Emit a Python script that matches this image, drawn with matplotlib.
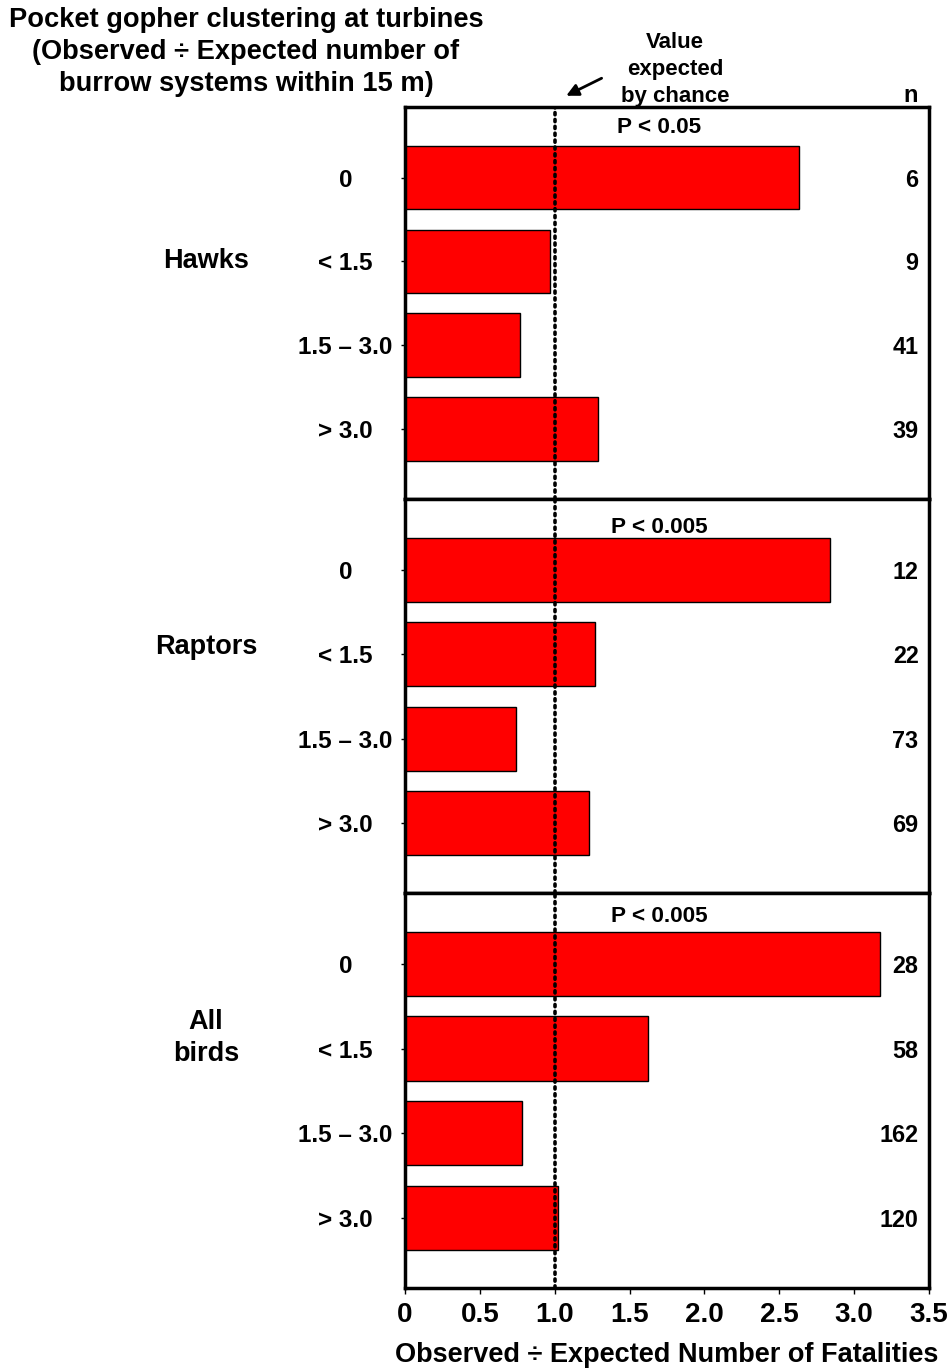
import matplotlib
matplotlib.use("Agg")
import matplotlib.pyplot as plt

plt.rcParams['font.family'] = ['Liberation Sans', 'DejaVu Sans']
plt.rcParams['font.weight'] = 'bold'

categories = ["0", "< 1.5", "1.5 – 3.0", "> 3.0"]
groups = ["Hawks", "Raptors", "All\nbirds"]
hawks = [2.63, 0.97, 0.77, 1.29]
raptors = [2.84, 1.27, 0.74, 1.23]
all_birds = [3.17, 1.62, 0.78, 1.02]
n_hawks = [6, 9, 41, 39]
n_raptors = [12, 22, 73, 69]
n_all = [28, 58, 162, 120]
p_labels = ["P < 0.05", "P < 0.005", "P < 0.005"]
xticks = [0, 0.5, 1.0, 1.5, 2.0, 2.5, 3.0, 3.5]
xticklabels = ["0", "0.5", "1.0", "1.5", "2.0", "2.5", "3.0", "3.5"]

values = [hawks, raptors, all_birds]
ns = [n_hawks, n_raptors, n_all]
p_y = [-0.60, -0.50, -0.56]
group_y = [1.0, 0.92, 0.87]

W, H = 951, 1369
fig = plt.figure(figsize=(W / 100, H / 100), dpi=100)

left = 405 / W
right = 929 / W
edges = [107, 499, 893, 1288]
axes = []
for i in range(3):
    top = 1 - edges[i] / H
    bot = 1 - edges[i + 1] / H
    ax = fig.add_axes([left, bot, right - left, top - bot])
    axes.append(ax)
    ypos = list(range(len(categories)))
    ax.barh(ypos, values[i], height=0.76, color='#ff0000', edgecolor='black', linewidth=1.0, zorder=2)
    ax.set_xlim(0, 3.5)
    ax.set_ylim(3.83, -0.84)
    ax.axvline(1.0, color='black', linestyle=(0, (0.6, 1.3)), linewidth=2.6, dash_capstyle='round', zorder=3)
    ax.set_yticks(ypos)
    ax.set_yticklabels(categories, fontsize=17.5, fontweight='bold')
    for lab in ax.get_yticklabels():
        lab.set_horizontalalignment('center')
    ax.tick_params(axis='y', direction='out', length=3, width=1, pad=40)
    for s in ax.spines.values():
        s.set_linewidth(2.5)
    ax.set_xticks(xticks)
    if i < 2:
        ax.tick_params(axis='x', length=0, labelbottom=False)
    else:
        ax.set_xticklabels(xticklabels, fontsize=20, fontweight='bold')
        ax.tick_params(axis='x', direction='out', length=4, width=1, pad=6)
        ax.set_xlabel("Observed ÷ Expected Number of Fatalities", fontsize=19.5, fontweight='bold', labelpad=10)
    for j, nv in enumerate(ns[i]):
        ax.text(0.98, j + 0.03, str(nv), transform=ax.get_yaxis_transform(), ha='right', va='center',
                fontsize=16.8, fontweight='bold')
    ax.text(1.7, p_y[i], p_labels[i], ha='center', va='center', fontsize=16.2, fontweight='bold')
    ax.text(-0.38, group_y[i], groups[i], transform=ax.get_yaxis_transform(), ha='center', va='center',
            fontsize=19.5, fontweight='bold', linespacing=1.3)

fig.text(246 / W, 1 - 52 / H, "Pocket gopher clustering at turbines\n(Observed ÷ Expected number of\nburrow systems within 15 m)",
         ha='center', va='center', fontsize=19.6, fontweight='bold', linespacing=1.32)
fig.text(675 / W, 1 - 69.5 / H, "Value\nexpected\nby chance", ha='center', va='center', fontsize=16,
         fontweight='bold', linespacing=1.35)
fig.text(911 / W, 1 - 96 / H, "n", ha='center', va='center', fontsize=17, fontweight='bold')
axes[0].annotate("", xy=(1.06, 1.0 + 10 / 392), xycoords=axes[0].get_xaxis_transform(),
                 xytext=(1.33, 1.0 + 30 / 392), textcoords=axes[0].get_xaxis_transform(),
                 arrowprops=dict(arrowstyle='-|>', color='black', lw=2, mutation_scale=18),
                 annotation_clip=False)

fig.savefig("out.png", dpi=100)
